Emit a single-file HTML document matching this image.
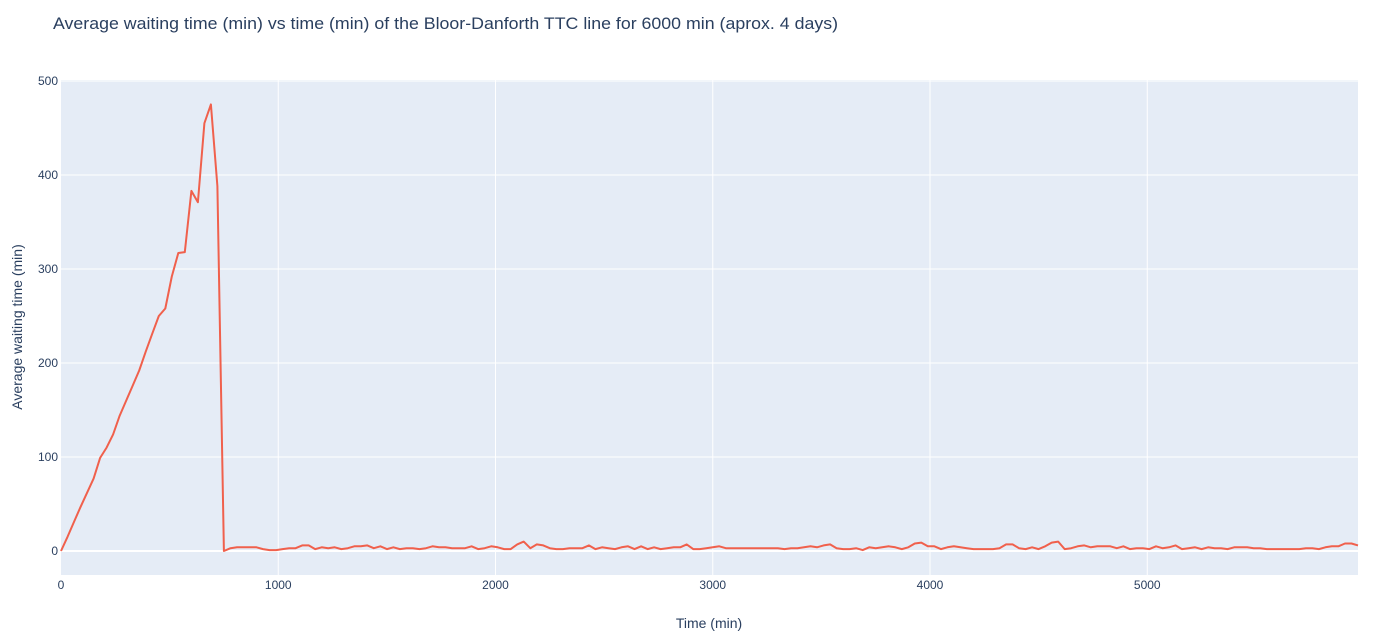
<!DOCTYPE html>
<html><head><meta charset="utf-8"><style>
body{margin:0;background:#fff;}
svg text{font-family:"Liberation Sans",sans-serif;fill:#2a3f5f;}
</style></head><body>
<svg id="chart" width="1397" height="639">
<text x="53" y="29" font-size="17" textLength="785" lengthAdjust="spacingAndGlyphs">Average waiting time (min) vs time (min) of the Bloor-Danforth TTC line for 6000 min (aprox. 4 days)</text>
<rect x="61" y="80" width="1297" height="495" fill="#e5ecf6"/>
<g id="grid"></g>
<g id="ticks"></g>
<path id="line" fill="none" stroke="#f0604c" stroke-width="2" stroke-linejoin="round"/>
<text x="709" y="628" font-size="14" text-anchor="middle">Time (min)</text>
<text transform="translate(22,327) rotate(-90)" font-size="14" text-anchor="middle">Average waiting time (min)</text>
</svg>
<script>
const riseTimes=[0,30,60,90,120,150,180,210,240,270,300,330,360,390,420,450,480,510,540,570,600,630,660,690,720,750];
const riseValues=[0,15,31,47,62,77,99,110,124,144,160,176,192,212,231,250,258,292,317,318,383,371,455,475,388,0];
const lowStart=780;
const lowStep=30;
const lowValues=[3,4,4,4,4,2,1,1,2,3,
3,6,6,2,4,3,4,2,3,5,
5,6,3,5,2,4,2,3,3,2,
3,5,4,4,3,3,3,5,2,3,
5,4,2,2,7,10,3,7,6,3,
2,2,3,3,3,6,2,4,3,2,
4,5,2,5,2,4,2,3,4,4,
7,2,2,3,4,5,3,3,3,3,
3,3,3,3,3,2,3,3,4,5,
4,6,7,3,2,2,3,1,4,3,
4,5,4,2,4,8,9,5,5,2,
4,5,4,3,2,2,2,2,3,7,
7,3,2,4,2,5,9,10,2,3,
5,6,4,5,5,5,3,5,2,3,
3,2,5,3,4,6,2,3,4,2,
4,3,3,2,4,4,4,3,3,2,
2,2,2,2,2,3,3,2,4,5,
5,8,8,6];
const xTicks=[0,1000,2000,3000,4000,5000];
const yTicks=[0,100,200,300,400,500];
const X0=61,X1=1358,Y0=575,Y1=80,xMin=0,xMax=5970,yMin=-25.5,yMax=501;
const xs=v=>X0+(v-xMin)/(xMax-xMin)*(X1-X0);
const ys=v=>Y0-(v-yMin)/(yMax-yMin)*(Y0-Y1);
const NS="http://www.w3.org/2000/svg";
const grid=document.getElementById('grid'),ticks=document.getElementById('ticks');
xTicks.forEach(t=>{
 if(t>0){const l=document.createElementNS(NS,'line');
 l.setAttribute('x1',xs(t));l.setAttribute('x2',xs(t));l.setAttribute('y1',Y1);l.setAttribute('y2',Y0);
 l.setAttribute('stroke','#fff');l.setAttribute('stroke-width','1');
 
 
 grid.appendChild(l);}
 const tx=document.createElementNS(NS,'text');
 tx.setAttribute('x',xs(t));tx.setAttribute('y',589);tx.setAttribute('font-size','12');tx.setAttribute('text-anchor','middle');
 tx.textContent=t;
 
 
 ticks.appendChild(tx);
});
yTicks.forEach(t=>{
 const l=document.createElementNS(NS,'line');
 l.setAttribute('x1',X0);l.setAttribute('x2',X1);l.setAttribute('y1',ys(t));l.setAttribute('y2',ys(t));
 l.setAttribute('stroke','#fff');l.setAttribute('stroke-width',t===0?'2':'1');
 
 
 grid.appendChild(l);
 const tx=document.createElementNS(NS,'text');
 tx.setAttribute('x',58);tx.setAttribute('y',ys(t)+4);tx.setAttribute('font-size','12');tx.setAttribute('text-anchor','end');
 tx.textContent=t;
 
 
 ticks.appendChild(tx);
});
const pts=riseTimes.map((t,i)=>[t,riseValues[i]]);
lowValues.forEach((v,i)=>pts.push([lowStart+i*lowStep,v]));
document.getElementById('line').setAttribute('d',pts.map((p,i)=>(i?'L':'M')+xs(p[0]).toFixed(1)+','+ys(p[1]).toFixed(1)).join(''));
</script>
</body></html>
